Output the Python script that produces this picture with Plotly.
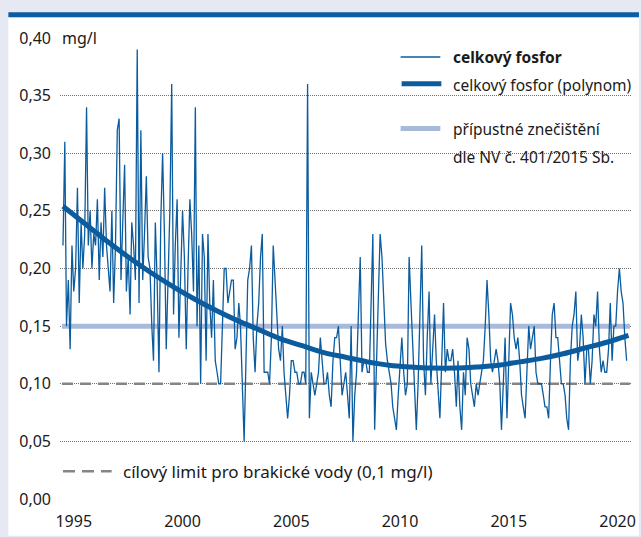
import plotly.graph_objects as go
import pandas as pd

# ---- data (monthly total phosphorus, mg/l) ----
years = list(range(1995, 2021))
phosphorus = [
    # 1995
    0.22, 0.31, 0.15, 0.19, 0.13, 0.22, 0.18, 0.20, 0.27, 0.17, 0.24, 0.20,
    # 1996
    0.23, 0.34, 0.22, 0.25, 0.20, 0.23, 0.22, 0.26, 0.19, 0.24, 0.21, 0.27,
    # 1997
    0.22, 0.20, 0.18, 0.25, 0.17, 0.22, 0.32, 0.33, 0.19, 0.24, 0.29, 0.18,
    # 1998
    0.21, 0.16, 0.24, 0.22, 0.19, 0.39, 0.17, 0.32, 0.19, 0.23, 0.28, 0.21,
    # 1999
    0.20, 0.15, 0.12, 0.24, 0.19, 0.11, 0.24, 0.30, 0.23, 0.13, 0.20, 0.25,
    # 2000
    0.36, 0.16, 0.22, 0.26, 0.14, 0.19, 0.25, 0.21, 0.13, 0.20, 0.26, 0.23,
    # 2001
    0.18, 0.34, 0.15, 0.22, 0.10, 0.23, 0.21, 0.12, 0.23, 0.17, 0.14, 0.19,
    # 2002
    0.12, 0.11, 0.10, 0.10, 0.15, 0.20, 0.20, 0.17, 0.18, 0.19, 0.19, 0.13,
    # 2003
    0.14, 0.17, 0.15, 0.10, 0.05, 0.12, 0.19, 0.20, 0.22, 0.14, 0.11, 0.15,
    # 2004
    0.17, 0.21, 0.23, 0.11, 0.11, 0.11, 0.10, 0.14, 0.22, 0.19, 0.17, 0.13,
    # 2005
    0.12, 0.15, 0.11, 0.09, 0.07, 0.09, 0.12, 0.12, 0.11, 0.11, 0.10, 0.10,
    # 2006
    0.11, 0.11, 0.10, 0.36, 0.07, 0.11, 0.10, 0.09, 0.10, 0.11, 0.14, 0.12,
    # 2007
    0.10, 0.10, 0.11, 0.09, 0.08, 0.12, 0.14, 0.14, 0.15, 0.12, 0.09, 0.10,
    # 2008
    0.11, 0.09, 0.07, 0.15, 0.05, 0.09, 0.11, 0.16, 0.21, 0.11, 0.12, 0.12,
    # 2009
    0.11, 0.11, 0.18, 0.23, 0.06, 0.12, 0.18, 0.23, 0.21, 0.17, 0.135, 0.12,
    # 2010
    0.11, 0.10, 0.08, 0.07, 0.06, 0.09, 0.12, 0.14, 0.11, 0.09, 0.10, 0.21,
    # 2011
    0.17, 0.13, 0.09, 0.06, 0.10, 0.16, 0.22, 0.12, 0.09, 0.14, 0.18, 0.10,
    # 2012
    0.13, 0.16, 0.12, 0.09, 0.07, 0.12, 0.17, 0.11, 0.13, 0.12, 0.12, 0.13,
    # 2013
    0.11, 0.08, 0.12, 0.08, 0.06, 0.11, 0.09, 0.14, 0.13, 0.10, 0.09, 0.08,
    # 2014
    0.10, 0.09, 0.10, 0.11, 0.12, 0.15, 0.19, 0.16, 0.12, 0.11, 0.12, 0.13,
    # 2015
    0.12, 0.10, 0.06, 0.11, 0.14, 0.07, 0.12, 0.17, 0.16, 0.14, 0.13, 0.14,
    # 2016
    0.12, 0.09, 0.08, 0.07, 0.11, 0.15, 0.13, 0.14, 0.15, 0.11, 0.10, 0.10,
    # 2017
    0.10, 0.09, 0.08, 0.08, 0.07, 0.12, 0.16, 0.17, 0.14, 0.14, 0.12, 0.10,
    # 2018
    0.10, 0.09, 0.07, 0.06, 0.12, 0.15, 0.16, 0.18, 0.12, 0.13, 0.16, 0.14,
    # 2019
    0.10, 0.13, 0.13, 0.10, 0.12, 0.16, 0.15, 0.18, 0.13, 0.11, 0.12, 0.11,
    # 2020
    0.11, 0.13, 0.17, 0.12, 0.15, 0.15, 0.18, 0.20, 0.18, 0.17, 0.14, 0.12,
]

# polynomial trend at the start of each year
trend_years = list(range(1995, 2022))
trend_values = [0.254, 0.239, 0.224, 0.210, 0.197, 0.185, 0.174, 0.164, 0.155,
                0.147, 0.139, 0.133, 0.127, 0.123, 0.119, 0.116, 0.1145, 0.1136,
                0.1136, 0.1145, 0.116, 0.119, 0.122, 0.126, 0.131, 0.136, 0.142]

permitted_limit = 0.15     # přípustné znečištění dle NV č. 401/2015 Sb.
target_limit = 0.10        # cílový limit pro brakické vody

y_ticks = [0.0, 0.05, 0.10, 0.15, 0.20, 0.25, 0.30, 0.35, 0.40]
y_ticktext = ["0,00", "0,05", "0,10", "0,15", "0,20", "0,25", "0,30", "0,35", "0,40"]
x_ticktext = ["1995", "2000", "2005", "2010", "2015", "2020"]

# ---- build ----
dates = pd.date_range("1995-01-01", periods=len(phosphorus), freq="MS")
trend_dates = [pd.Timestamp(f"{y}-01-01") for y in trend_years]
x_tickvals = [pd.Timestamp(f"{y}-07-01") for y in x_ticktext]
limit_x = [pd.Timestamp("1994-12-15"), pd.Timestamp("2021-01-25")]

BLUE = "#0b5c9f"
FONT = "Noto Sans"
W, H = 641, 537
L, R, T, B = 60, 5, 38, 35
PW, PH = W - L - R, H - T - B


def px(x):
    return (x - L) / PW


def py(y):
    return (H - B - y) / PH


fig = go.Figure()
fig.add_trace(go.Scatter(x=limit_x, y=[permitted_limit] * 2, mode="lines",
                         line=dict(color="#a9b9da", width=5), hoverinfo="skip"))
fig.add_trace(go.Scatter(x=limit_x, y=[target_limit] * 2, mode="lines",
                         line=dict(color="#858585", width=2.5, dash="11px,7px"),
                         hoverinfo="skip"))
fig.add_trace(go.Scatter(x=dates, y=phosphorus, mode="lines",
                         line=dict(color=BLUE, width=1.3)))
fig.add_trace(go.Scatter(x=trend_dates, y=trend_values, mode="lines",
                         line=dict(color=BLUE, width=5, shape="spline")))

shapes = [
    # white panel and blue top bar
    dict(type="rect", xref="paper", yref="paper", x0=px(8), x1=px(W + 2),
         y0=py(H + 2), y1=py(17), fillcolor="white", line_width=0, layer="below"),
    dict(type="rect", xref="paper", yref="paper", x0=px(8), x1=px(W + 2),
         y0=py(17), y1=py(12), fillcolor="#0b5ca2", line_width=0, layer="below"),
    # mask behind "mg/l"
    dict(type="rect", xref="paper", yref="paper", x0=px(57), x1=px(103),
         y0=py(46), y1=py(30), fillcolor="white", line_width=0, layer="above"),
    # legend samples
    dict(type="line", xref="paper", yref="paper", x0=px(403), x1=px(443),
         y0=py(57), y1=py(57), line=dict(color=BLUE, width=1.5), layer="above"),
    dict(type="line", xref="paper", yref="paper", x0=px(404), x1=px(444),
         y0=py(84), y1=py(84), line=dict(color=BLUE, width=5), layer="above"),
    dict(type="line", xref="paper", yref="paper", x0=px(403), x1=px(443),
         y0=py(129), y1=py(129), line=dict(color="#a9b9da", width=5), layer="above"),
    dict(type="line", xref="paper", yref="paper", x0=px(63), x1=px(112),
         y0=py(474), y1=py(474), line=dict(color="#858585", width=2.5, dash="12px,7px"),
         layer="above"),
]

ann_font = dict(family=FONT, size=15.5, color="#1a1a1a")
annotations = [
    dict(text="mg/l", x=px(60), y=py(38), xref="paper", yref="paper",
         xanchor="left", yanchor="middle", showarrow=False,
         font=dict(family=FONT, size=16, color="#1a1a1a")),
    dict(text="<b>celkový fosfor</b>", x=px(454), y=py(57), xref="paper", yref="paper",
         xanchor="left", yanchor="middle", showarrow=False, font=ann_font),
    dict(text="celkový fosfor (polynom)", x=px(454), y=py(85), xref="paper", yref="paper",
         xanchor="left", yanchor="middle", showarrow=False, font=ann_font),
    dict(text="přípustné znečištění", x=px(454), y=py(130), xref="paper", yref="paper",
         xanchor="left", yanchor="middle", showarrow=False, font=ann_font),
    dict(text="dle NV č. 401/2015 Sb.", x=px(454), y=py(158), xref="paper", yref="paper",
         xanchor="left", yanchor="middle", showarrow=False, font=ann_font),
    dict(text="cílový limit pro brakické vody (0,1 mg/l)", x=px(121), y=py(474),
         xref="paper", yref="paper", xanchor="left", yanchor="middle",
         showarrow=False, font=dict(family=FONT, size=17, color="#1a1a1a")),
]

x_start = pd.Timestamp("1995-01-01") - pd.Timedelta(days=50)
x_end = x_start + pd.Timedelta(days=int(PW / 21.9 * 365.25))

fig.update_layout(
    width=W, height=H,
    margin=dict(l=L, r=R, t=T, b=B),
    paper_bgcolor="#e6e8f4",
    plot_bgcolor="rgba(0,0,0,0)",
    showlegend=False,
    font=dict(family=FONT, size=16, color="#1a1a1a"),
    shapes=shapes,
    annotations=annotations,
    xaxis=dict(type="date", range=[x_start, x_end], showgrid=False, zeroline=False,
               showline=False, tickmode="array", tickvals=x_tickvals,
               ticktext=x_ticktext, ticks="", ticklabelstandoff=11),
    yaxis=dict(range=[0, 0.40], tickmode="array", tickvals=y_ticks,
               ticktext=y_ticktext, showgrid=True, gridcolor="#707070",
               griddash="1px,1px", gridwidth=1, zeroline=False, showline=False,
               ticks="", ticklabelstandoff=8),
)

fig.write_html("out.html",
               config={"displayModeBar": False},
               post_script="document.body.style.margin='0';"
                           "document.body.style.overflow='hidden';")
